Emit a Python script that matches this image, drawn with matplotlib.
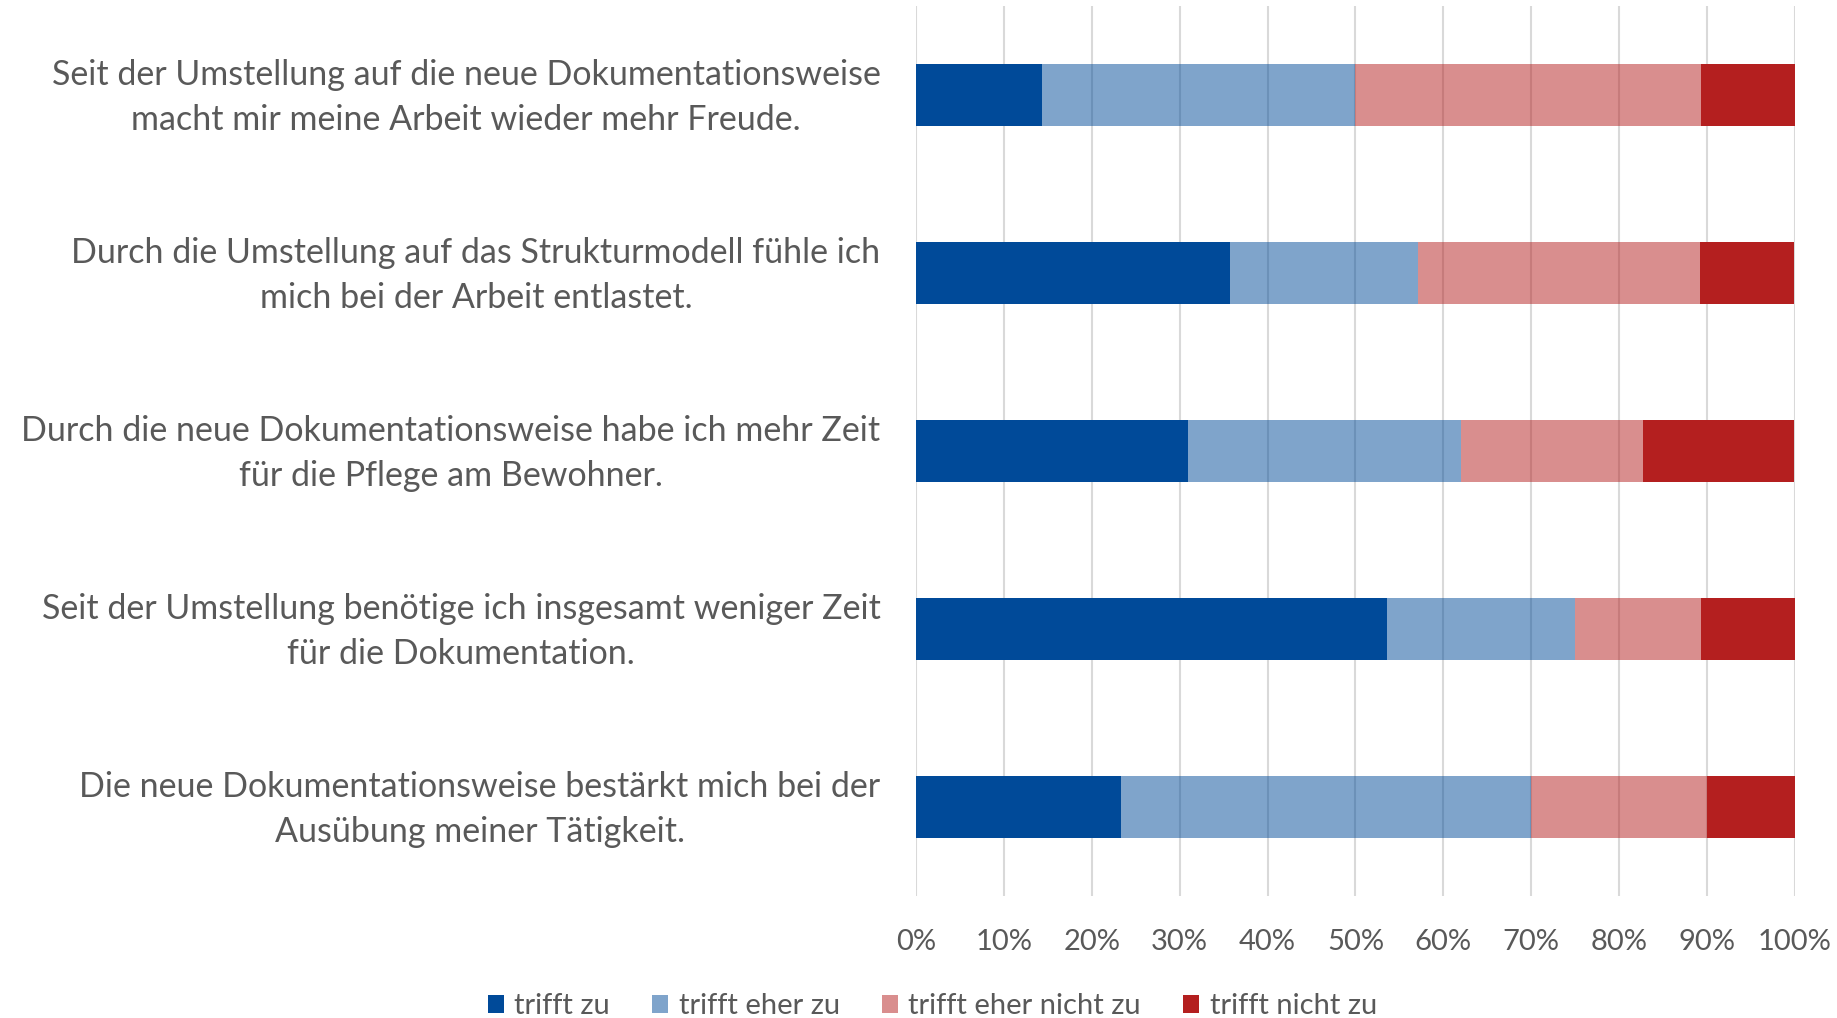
import matplotlib
matplotlib.use("Agg")
from matplotlib import pyplot as plt
from matplotlib.ticker import PercentFormatter
from matplotlib.transforms import ScaledTranslation

# survey statements (top to bottom) and answer shares in percent
statements = [
    "Seit der Umstellung auf die neue Dokumentationsweise\nmacht mir meine Arbeit wieder mehr Freude.",
    "Durch die Umstellung auf das Strukturmodell fühle ich\nmich bei der Arbeit entlastet.",
    "Durch die neue Dokumentationsweise habe ich mehr Zeit\nfür die Pflege am Bewohner.",
    "Seit der Umstellung benötige ich insgesamt weniger Zeit\nfür die Dokumentation.",
    "Die neue Dokumentationsweise bestärkt mich bei der\nAusübung meiner Tätigkeit.",
]
categories = ["trifft zu", "trifft eher zu", "trifft eher nicht zu", "trifft nicht zu"]
trifft_zu = [14.3, 35.7, 31.0, 53.6, 23.3]
eher_zu = [35.7, 21.4, 31.0, 21.4, 46.7]
eher_nicht = [39.3, 32.1, 20.7, 14.3, 20.0]
nicht_zu = [10.7, 10.7, 17.2, 10.7, 10.0]

series = [trifft_zu, eher_zu, eher_nicht, nicht_zu]
colors = ["#004A99", "#004A99", "#B41F1F", "#B41F1F"]
alphas = [1.0, 0.5, 0.5, 1.0]

plt.rcParams['font.family'] = ['Lato', 'DejaVu Sans']
text_col = "#595959"

fig = plt.figure(figsize=(18.37, 10.18), dpi=100)
ax = fig.add_axes([0.4986, 0.1198, 0.4785, 0.8742])

y = list(range(len(statements)))
left = [0.0] * len(statements)
for vals, name, c, a in zip(series, categories, colors, alphas):
    ax.barh(y, vals, left=left, height=0.35, color=c, alpha=a, label=name,
            linewidth=0)
    left = [l + v for l, v in zip(left, vals)]

ax.set_xlim(0, 100)
ax.set_ylim(4.5, -0.5)
ax.set_xticks(range(0, 101, 10))
ax.xaxis.set_major_formatter(PercentFormatter(decimals=0))
ax.set_yticks(y)
ax.set_yticklabels(statements)
ax.tick_params(axis='y', length=0, pad=25.5, labelsize=24.5, labelcolor=text_col)
ax.tick_params(axis='x', length=0, pad=24, labelsize=21, labelcolor=text_col)
# nudge the two-line labels up a little so they sit centred on the bars
shift = ScaledTranslation(0, 5 / 72, fig.dpi_scale_trans)
for lab in ax.get_yticklabels():
    lab.set_multialignment('center')
    lab.set_linespacing(1.5)
    lab.set_transform(lab.get_transform() + shift)
ax.grid(axis='x', color="#D9D9D9", linewidth=1.5)
ax.set_axisbelow(True)
for s in ax.spines.values():
    s.set_visible(False)

fig.legend(loc='lower center', ncol=4, frameon=False, fontsize=21,
           bbox_to_anchor=(0.5076, -0.027), handlelength=0.55, handleheight=0.55,
           handletextpad=0.35, columnspacing=1.45, labelcolor=text_col)

fig.savefig("out.png", dpi=100)
